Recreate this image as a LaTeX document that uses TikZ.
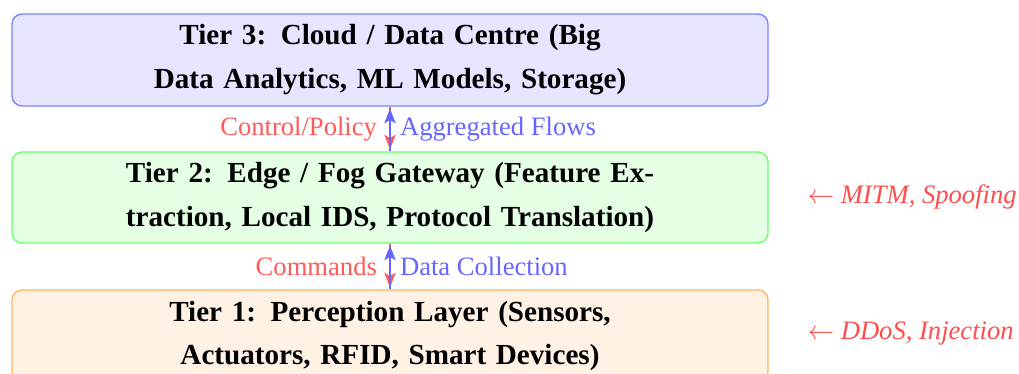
\documentclass[tikz,border=0pt]{standalone}
\usepackage{fontspec}
\setmainfont{Liberation Serif}
\usetikzlibrary{arrows.meta}
\begin{document}
\begin{tikzpicture}[x=0.3759pt,y=-0.3759pt,
  tier/.style={draw, line width=0.5pt, rounded corners=3.8pt, align=center,
    text width=206pt, minimum width=284.2pt, inner sep=0pt,
    font=\fontsize{10.95}{16.5}\selectfont\bfseries},
  flowtip/.style={-{Stealth[length=5.5pt,width=4.2pt,inset=1.2pt]}, line width=0.8pt, shorten >=0.7pt},
  downflow/.style={flowtip, draw=red!65},
  upflow/.style={flowtip, draw=blue!60},
  redlbl/.style={text=red!65, inner sep=0pt},
  bluelbl/.style={text=blue!60, inner sep=0pt},
  threat/.style={text=red!70, inner sep=0pt, anchor=west}]
  \useasboundingbox (0,0) rectangle (1019,374);

  % the three tiers
  \node[tier, draw=blue!50, fill=blue!10, minimum height=34.6pt] (t3) at (390,60)
    {Tier 3: Cloud / Data Centre (Big Data Analytics, ML Models, Storage)};
  \node[tier, draw=green!60, fill=green!10, minimum height=34.2pt] (t2) at (390,197.5)
    {Tier 2: Edge / Fog Gateway (Feature Extraction, Local IDS, Protocol Translation)};
  \node[tier, draw=orange!60, fill=orange!10, minimum height=34.6pt] (t1) at (390,336)
    {Tier 1: Perception Layer (Sensors, Actuators, RFID, Smart Devices)};

  % flows between tiers
  \draw[downflow] (t3.south) -- (t2.north)
    node[redlbl, midway, anchor=east, xshift=-12*0.3759pt] (c1) {Control/Policy};
  \draw[upflow] (t2.north) -- (t3.south)
    node[bluelbl, midway, anchor=west, xshift=9*0.3759pt] (a1) {Aggregated Flows};
  \draw[downflow] (t2.south) -- (t1.north)
    node[redlbl, midway, anchor=east, xshift=-12*0.3759pt] (c2) {Commands};
  \draw[upflow] (t1.north) -- (t2.south)
    node[bluelbl, midway, anchor=west, xshift=9*0.3759pt] (a2) {Data Collection};

  % threats per tier
  \node[threat] (th2) at (807,197) {$\leftarrow$ \textit{MITM, Spoofing}};
  \node[threat] (th1) at (807,334) {$\leftarrow$ \textit{DDoS, Injection}};
\end{tikzpicture}
\end{document}
